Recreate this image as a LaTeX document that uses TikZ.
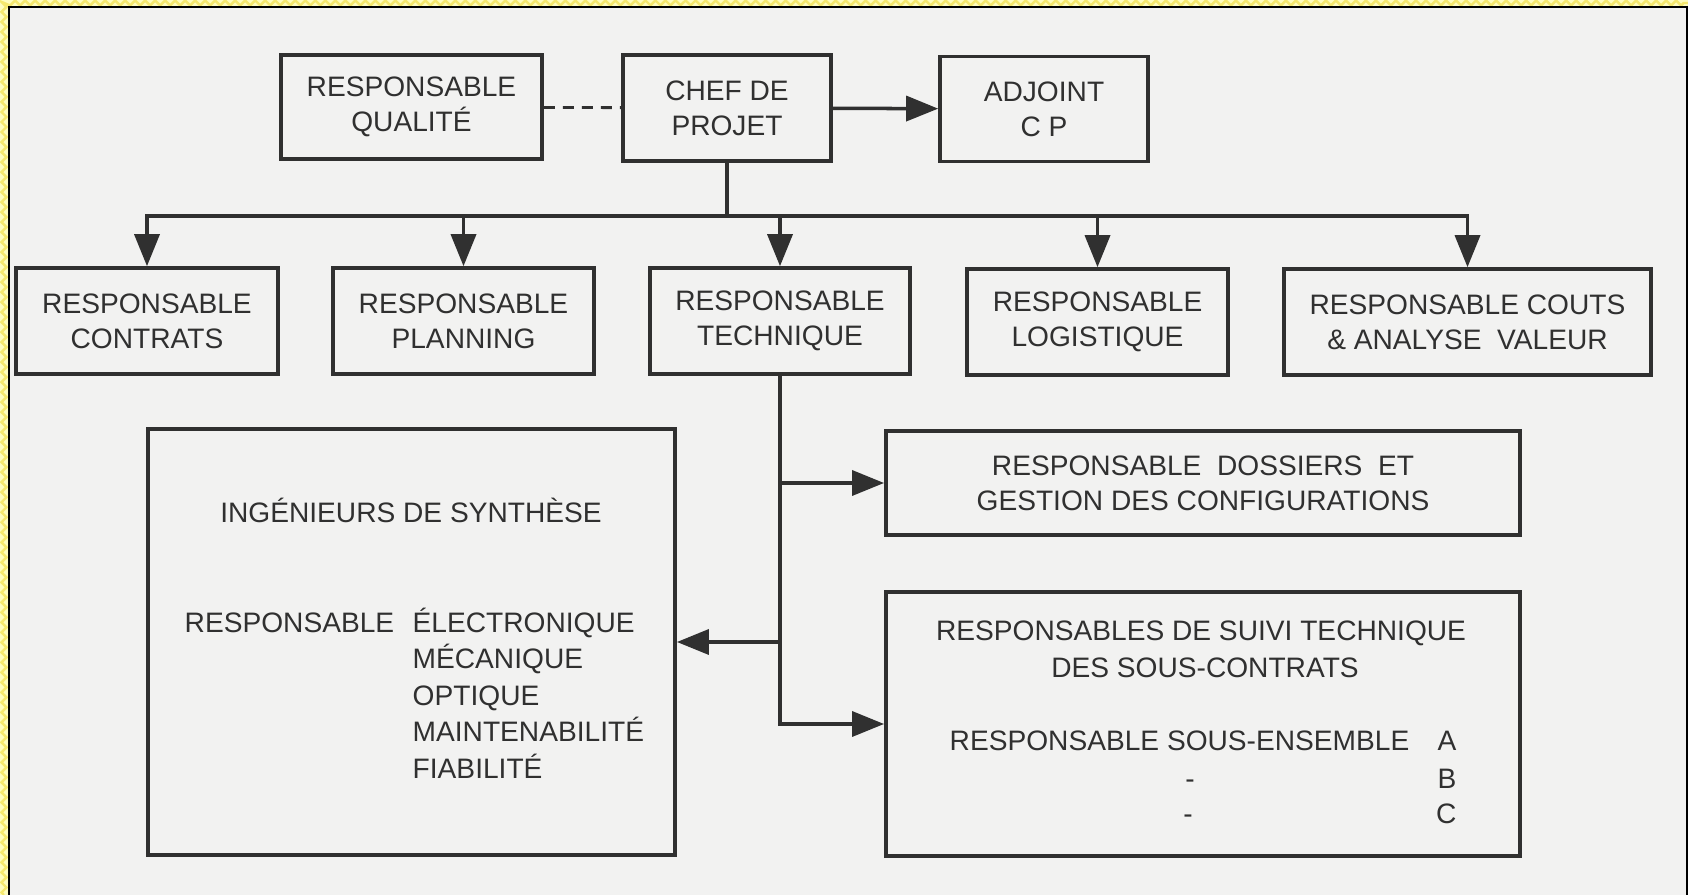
\documentclass[tikz,border=0pt]{standalone}
\usepackage{fontspec}
\setmainfont{Liberation Sans}
\usetikzlibrary{arrows.meta,decorations.pathmorphing}
\definecolor{papier}{RGB}{242,242,241}
\definecolor{encre}{RGB}{48,48,48}
\definecolor{cadrejaune}{RGB}{255,253,190}
\definecolor{zigjaune}{RGB}{245,232,110}
\tikzstyle{mybox} = [draw=encre, line width=1pt, rectangle, inner sep=0pt, align=center, text=encre, font=\fontsize{8}{10}\selectfont]
\tikzstyle{mytext} = [inner sep=0pt, text=encre, font=\fontsize{8}{10}\selectfont, text height=5.8pt, text depth=0pt]
\tikzstyle{myline} = [draw=encre, line width=1pt, line cap=rect]
\tikzstyle{myarrow} = [draw=encre, line width=1pt, -{Triangle[length=0.32cm,width=0.25cm]}]

\begin{document}
\begin{tikzpicture}[x=0.01cm, y=-0.01cm]
	\useasboundingbox (0,0) rectangle (1688,895);
	\fill[papier] (0,0) rectangle (1688,895);
	% cadre
	\fill[cadrejaune] (0,0) rectangle (8,895);
	\fill[cadrejaune] (0,0) rectangle (1688,6);
	\draw[zigjaune, line width=0.7pt, decorate, decoration={zigzag, segment length=0.1cm, amplitude=0.025cm}] (4,895) -- (4,3) -- (1688,3);
	\fill[black] (8,6) rectangle (10,895);
	\fill[black] (8,6) rectangle (1688,8);
	\fill[black] (1686,6) rectangle (1688,895);

	% premier niveau
	\node [mybox, minimum width=2.61cm, minimum height=1.04cm] (qual) at (411.5,107) {RESPONSABLE\\QUALITÉ};
	\node [mybox, minimum width=2.08cm, minimum height=1.06cm] (chef) at (727,108) {CHEF DE\\PROJET};
	\node [mybox, minimum width=2.08cm, minimum height=1.05cm] (adj) at (1044,109) {ADJOINT\\C P};

	% deuxieme niveau
	\node [mybox, minimum width=2.62cm, minimum height=1.06cm] (contr) at (147,321) {RESPONSABLE\\CONTRATS};
	\node [mybox, minimum width=2.61cm, minimum height=1.06cm] (plan) at (463.5,321) {RESPONSABLE\\PLANNING};
	\node [mybox, minimum width=2.60cm, minimum height=1.06cm] (tech) at (780,321) {RESPONSABLE\\TECHNIQUE};
	\node [mybox, minimum width=2.61cm, minimum height=1.06cm] (logi) at (1097.5,322) {RESPONSABLE\\LOGISTIQUE};
	\node [mybox, minimum width=3.67cm, minimum height=1.06cm] (couts) at (1467.5,322) {RESPONSABLE COUTS\\\&\ ANALYSE\ \ VALEUR};

	% equipe technique
	\node [mybox, minimum width=5.27cm, minimum height=4.26cm] (ing) at (411.5,642) {};
	\node [mybox, minimum width=6.34cm, minimum height=1.04cm] (doss) at (1203,483) {RESPONSABLE\ \ DOSSIERS\ \ ET\\GESTION DES CONFIGURATIONS};
	\node [mybox, minimum width=6.34cm, minimum height=2.64cm] (suivi) at (1203,724) {};

	\node [mytext] (ingtitre) at (411,512) {INGÉNIEURS DE SYNTHÈSE};
	\node [mytext, anchor=west] (ingresp) at (184,622) {RESPONSABLE};
	\foreach \f [count=\i from 0] in {ÉLECTRONIQUE,MÉCANIQUE,OPTIQUE,MAINTENABILITÉ,FIABILITÉ}
		\node [mytext, anchor=west] (ingdom\i) at (412,622+36.5*\i) {\f};

	\node [mytext] (suivititre) at (1201,630) {RESPONSABLES DE SUIVI TECHNIQUE};
	\node [mytext] (suivisous) at (1205,667) {DES SOUS-CONTRATS};
	\node [mytext, anchor=west] (suiviresp) at (949,740) {RESPONSABLE SOUS-ENSEMBLE};
	\node [mytext, anchor=east] (ssa) at (1457,740) {A};
	\node [mytext, anchor=east] (ssb) at (1457,778) {B};
	\node [mytext, anchor=east] (ssc) at (1457,813) {C};
	\node [mytext] (tiretb) at (1190,778) {-};
	\node [mytext] (tiretc) at (1188,813) {-};

	% liaisons
	\draw [encre, line width=0.8pt, dash pattern=on 0.11cm off 0.08cm] (qual) -- (chef);
	\draw [myarrow] (chef) -- (adj);
	\coordinate (bus) at (730,216);
	\draw [myline] (chef.south) -- (chef.south |- bus);
	\draw [myline] (contr.north |- bus) -- (couts.north |- bus);
	\foreach \b in {contr,plan,tech,logi,couts}
		\draw [myarrow] (\b.north |- bus) -- (\b.north);

	\draw [myline] (tech.south) -- (tech.south |- suivi.west);
	\draw [myarrow] (tech.south |- doss.west) -- (doss.west);
	\draw [myarrow] (tech.south |- ing.east) -- (ing.east);
	\draw [myarrow] (tech.south |- suivi.west) -- (suivi.west);
\end{tikzpicture}
\end{document}
